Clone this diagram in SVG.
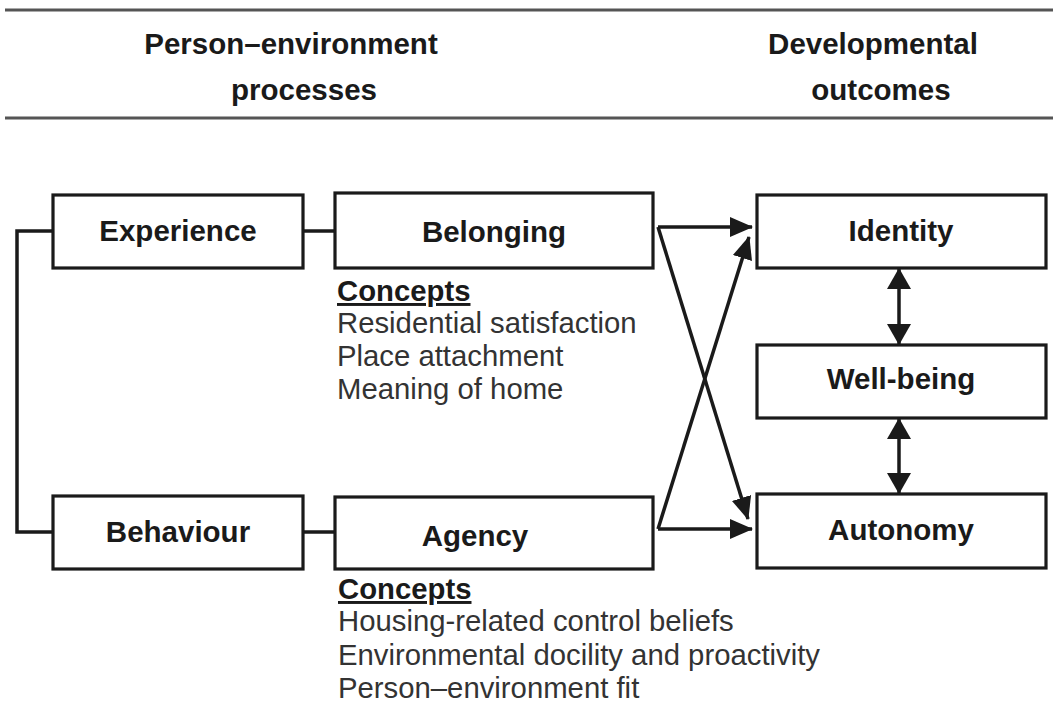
<svg xmlns="http://www.w3.org/2000/svg" width="1053" height="705" viewBox="0 0 1053 705">
<defs>
<style>
.box{fill:#fff;stroke:#1a1a1a;stroke-width:3.2}
.lbl{font-family:"Liberation Sans",Arial,sans-serif;font-weight:bold;font-size:29.5px;fill:#1a1a1a;text-anchor:middle}
.hdr{font-family:"Liberation Sans",Arial,sans-serif;font-weight:bold;font-size:29.5px;fill:#1a1a1a;text-anchor:middle}
.con{font-family:"Liberation Sans",Arial,sans-serif;font-size:29.3px;fill:#333}
.conh{font-family:"Liberation Sans",Arial,sans-serif;font-size:29.3px;font-weight:bold;fill:#1a1a1a;text-decoration:underline}
.ln{fill:none;stroke:#1a1a1a;stroke-width:3.5}
.rule{stroke:#555;stroke-width:3}
</style>
<marker id="ah" markerUnits="userSpaceOnUse" markerWidth="24" markerHeight="24" viewBox="0 0 24 24" refX="22" refY="12" orient="auto-start-reverse">
<path d="M0,2 L23,12 L0,22 Z" fill="#1a1a1a"/>
</marker>
<marker id="dh" markerUnits="userSpaceOnUse" markerWidth="22" markerHeight="26" viewBox="0 0 22 26" refX="20" refY="13" orient="auto-start-reverse">
<path d="M0,1 L21,13 L0,25 Z" fill="#1a1a1a"/>
</marker>
</defs>
<rect width="1053" height="705" fill="#fff"/>

<g id="header">
<line class="rule" x1="5" y1="10" x2="1053" y2="10"/>
<line class="rule" x1="5" y1="118" x2="1053" y2="118"/>
<text class="hdr" x="291" y="54">Person–environment</text>
<text class="hdr" x="304" y="100">processes</text>
<text class="hdr" x="873" y="54">Developmental</text>
<text class="hdr" x="881" y="100">outcomes</text>
</g>

<g id="connectors">
<polyline class="ln" points="53,231 17,231 17,532 53,532"/>
<line class="ln" x1="303" y1="231" x2="335" y2="231"/>
<line class="ln" x1="303" y1="532" x2="335" y2="532"/>
<line class="ln" x1="658" y1="227" x2="752" y2="227" marker-end="url(#ah)"/>
<line class="ln" x1="658" y1="227" x2="748" y2="519" marker-end="url(#ah)"/>
<line class="ln" x1="658" y1="529" x2="752" y2="529" marker-end="url(#ah)"/>
<line class="ln" x1="658" y1="529" x2="749" y2="237" marker-end="url(#ah)"/>
<line class="ln" x1="899" y1="269" x2="899" y2="344" marker-start="url(#dh)" marker-end="url(#dh)"/>
<line class="ln" x1="899" y1="419" x2="899" y2="493" marker-start="url(#dh)" marker-end="url(#dh)"/>
</g>

<g id="experience">
<rect class="box" x="53" y="195" width="250" height="73"/>
<text class="lbl" x="178" y="241">Experience</text>
</g>
<g id="behaviour">
<rect class="box" x="53" y="496" width="250" height="73"/>
<text class="lbl" x="178" y="542">Behaviour</text>
</g>
<g id="belonging">
<rect class="box" x="335" y="193" width="318" height="75"/>
<text class="lbl" x="494" y="242">Belonging</text>
<text class="conh" x="337" y="301">Concepts</text>
<text class="con" x="337" y="333">Residential satisfaction</text>
<text class="con" x="337" y="366">Place attachment</text>
<text class="con" x="337" y="399">Meaning of home</text>
</g>
<g id="agency">
<rect class="box" x="335" y="497" width="318" height="72"/>
<text class="lbl" x="475" y="546">Agency</text>
<text class="conh" x="338" y="599">Concepts</text>
<text class="con" x="338" y="631">Housing-related control beliefs</text>
<text class="con" x="338" y="665">Environmental docility and proactivity</text>
<text class="con" x="338" y="698">Person–environment fit</text>
</g>
<g id="identity">
<rect class="box" x="757" y="195" width="289" height="73"/>
<text class="lbl" x="901" y="241">Identity</text>
</g>
<g id="wellbeing">
<rect class="box" x="757" y="345" width="289" height="73"/>
<text class="lbl" x="901" y="389">Well-being</text>
</g>
<g id="autonomy">
<rect class="box" x="757" y="494" width="289" height="74"/>
<text class="lbl" x="901" y="540">Autonomy</text>
</g>
</svg>
